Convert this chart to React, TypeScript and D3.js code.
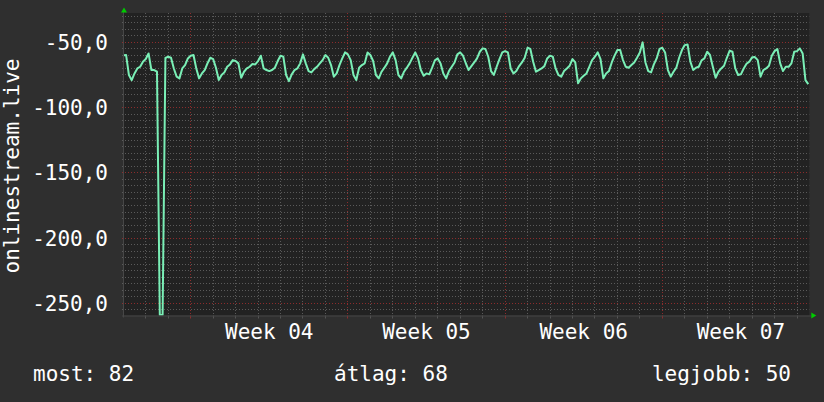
import React from "react";
import * as d3 from "d3";

const WIDTH = 824;
const HEIGHT = 402;

// Series: one sample every 3 hours, starting 2021-01-22 00:00 UTC
const START_MS = Date.UTC(2021, 0, 22);
const STEP_HOURS = 3;
const values: number[] = [
  -60, -59.7, -75, -79, -73.8, -70, -68.7, -64.8,
  -62.8, -58.5, -71.2, -71.2, -72.5, -259, -259, -62,
  -61, -61.8, -70, -76.3, -77.6, -70, -67.4, -62.3,
  -60.2, -59.7, -70, -77.6, -73.8, -71.2, -66, -61.8,
  -62.8, -69.5, -78.9, -75, -73, -68.7, -66.9, -63.6,
  -64.3, -66.1, -77.1, -72.5, -70, -68.7, -66.6, -66.9,
  -64.3, -60.2, -70, -71.2, -72, -71.2, -69.4, -64.3,
  -60.2, -61, -75, -79.7, -74.5, -71.2, -70, -66.1,
  -59.2, -66.1, -72, -73, -70.5, -68.7, -66.1, -63.6,
  -59.7, -61.8, -67.4, -76.3, -73.8, -67.4, -62.3, -57.7,
  -59.2, -63.6, -75, -78.9, -69.4, -67.4, -66.1, -57.7,
  -59.7, -64.3, -75, -77.6, -72.5, -69.4, -66.1, -61,
  -57.7, -63.6, -75, -77.6, -72.5, -69.4, -66.1, -61.8,
  -57.7, -62.3, -71.2, -75.6, -73.8, -74.5, -69.4, -63.8,
  -62.3, -66.1, -73.8, -77.6, -72, -68.7, -65.4, -59.2,
  -57.7, -60.2, -66, -71.2, -68.2, -65.4, -62.3, -57.2,
  -54.6, -55.1, -61, -72, -75, -68.7, -62.8, -57.7,
  -56.7, -57.7, -70, -73.8, -72, -68.2, -65.4, -61.8,
  -54.1, -55.1, -64.8, -72.5, -71.2, -70, -68.2, -62.3,
  -60.2, -61, -70, -75, -76.3, -72, -70, -67.9,
  -62.8, -65.4, -81.4, -77.6, -75.6, -73.8, -68.7, -63.6,
  -61, -57.7, -62.8, -77.6, -73.8, -72, -65.4, -60.2,
  -55.9, -55.9, -63.6, -68.7, -69.4, -67.4, -65.4, -61.8,
  -57.7, -50, -65.4, -72, -73, -66.9, -62.3, -55.1,
  -54.1, -57.7, -71.2, -76.3, -72.5, -69.4, -61.8, -55.9,
  -52.1, -51.6, -64.8, -71.2, -69.4, -68.7, -63.8, -62.3,
  -57.2, -59.7, -68.7, -77.1, -72.5, -70, -67.9, -61.8,
  -56.4, -57.2, -70, -75, -74.5, -70, -66.4, -64.8,
  -61.5, -61.3, -63.6, -76.3, -71.2, -70, -67.9, -60.2,
  -56.7, -55.1, -66.1, -72, -68.7, -68.7, -66.1, -57.2,
  -56.7, -54.6, -58.5, -78.9, -82,
];

const seriesName = "onlinestream.live";
const yMajorTicks = [-250, -200, -150, -100, -50];
const yMinorStep = 5;
const yDomain: [number, number] = [-259.3, -27.5];
const xDomainDays: [number, number] = [0.031, 30.546];

const legendLabels = ["most", "átlag", "legjobb"];
const legendValues = [82, 68, 50];

const DAY_MS = 86400000;

const locale = d3.formatLocale({
  decimal: ",",
  thousands: " ",
  grouping: [3],
  currency: ["", ""],
  minus: "-",
});
const fmtY = locale.format(".1f");
const fmtWeek = d3.utcFormat("%V");

const PLOT = { left: 124, right: 809.3, top: 13, bottom: 315.5 };

const BG = "#2f2f2f";
const PLOT_BG = "#222222";
const MINOR = "#5a5a5a";
const MAJOR = "#8c2c2c";
const LINE = "#7aefb6";
const ARROW = "#00cc00";
const FONT = "'DejaVu Sans Mono', monospace";

export default function App() {
  const x = d3
    .scaleUtc()
    .domain([
      new Date(START_MS + xDomainDays[0] * DAY_MS),
      new Date(START_MS + xDomainDays[1] * DAY_MS),
    ])
    .range([PLOT.left, PLOT.right]);
  const y = d3.scaleLinear().domain(yDomain).range([PLOT.bottom, PLOT.top]);

  const data = values.map((v, i) => ({
    t: new Date(START_MS + i * STEP_HOURS * 3600000),
    v,
  }));

  const line = d3
    .line<{ t: Date; v: number }>()
    .x((d) => x(d.t))
    .y((d) => y(d.v));

  const [d0, d1] = x.domain();
  const days = d3.utcDay.range(d0, d1);
  const mondays = d3.utcMonday.range(d0, d1);
  const isMonday = (d: Date) => d.getUTCDay() === 1;

  const minorY = d3
    .range(Math.ceil(yDomain[0] / yMinorStep) * yMinorStep, yDomain[1], yMinorStep)
    .filter((v) => !yMajorTicks.includes(v));

  const px = (v: number) => Math.floor(v) + 0.5;

  const weekLabels = mondays
    .map((m) => ({ m, c: new Date(m.getTime() + 3.5 * DAY_MS) }))
    .filter((o) => o.c < d1);

  return (
    <svg
      width={WIDTH}
      height={HEIGHT}
      style={{ position: "absolute", left: 0, top: 0, display: "block" }}
    >
      <defs>
        <clipPath id="plotclip">
          <rect
            x={PLOT.left}
            y={PLOT.top}
            width={PLOT.right - PLOT.left}
            height={PLOT.bottom - PLOT.top}
          />
        </clipPath>
      </defs>
      <rect x={0} y={0} width={WIDTH} height={HEIGHT} fill={BG} />
      <rect
        x={PLOT.left}
        y={PLOT.top}
        width={PLOT.right - PLOT.left}
        height={PLOT.bottom - PLOT.top}
        fill={PLOT_BG}
      />
      {/* minor grid */}
      <g stroke={MINOR} strokeWidth={1} strokeDasharray="1,2" fill="none">
        {minorY.map((v) => (
          <line key={"my" + v} x1={PLOT.left - 2} x2={PLOT.right} y1={px(y(v))} y2={px(y(v))} />
        ))}
        {days
          .filter((d) => !isMonday(d))
          .map((d) => (
            <line
              key={"mx" + d.getTime()}
              x1={px(x(d))}
              x2={px(x(d))}
              y1={PLOT.top}
              y2={PLOT.bottom + 2}
            />
          ))}
      </g>
      {/* major grid */}
      <g stroke={MAJOR} strokeWidth={1} strokeDasharray="1,2" fill="none">
        {yMajorTicks.map((v) => (
          <line key={"My" + v} x1={PLOT.left - 2} x2={PLOT.right} y1={px(y(v))} y2={px(y(v))} />
        ))}
        {mondays.map((d) => (
          <line
            key={"Mx" + d.getTime()}
            x1={px(x(d))}
            x2={px(x(d))}
            y1={PLOT.top}
            y2={PLOT.bottom + 3}
          />
        ))}
      </g>
      {/* ticks below axis */}
      <g strokeWidth={1}>
        {days.map((d) => (
          <line
            key={"t" + d.getTime()}
            x1={px(x(d))}
            x2={px(x(d))}
            y1={PLOT.bottom}
            y2={PLOT.bottom + 3}
            stroke={isMonday(d) ? MAJOR : "#555"}
          />
        ))}
      </g>
      {/* data line */}
      <path
        d={line(data) || ""}
        fill="none"
        stroke={LINE}
        strokeWidth={2}
        strokeLinejoin="round"
        clipPath="url(#plotclip)"
      />
      {/* axes */}
      <line x1={PLOT.left - 2} x2={PLOT.right + 2} y1={PLOT.bottom + 0.5} y2={PLOT.bottom + 0.5} stroke="#474747" />
      <line x1={PLOT.left - 0.5} x2={PLOT.left - 0.5} y1={PLOT.top - 2} y2={PLOT.bottom + 2} stroke="#474747" />
      {/* arrows */}
      <polygon
        points={`${PLOT.left - 3},${PLOT.top - 0.5} ${PLOT.left + 3},${PLOT.top - 0.5} ${PLOT.left},${PLOT.top - 5.5}`}
        fill={ARROW}
      />
      <polygon
        points={`${PLOT.right + 2},${PLOT.bottom - 3} ${PLOT.right + 2},${PLOT.bottom + 3} ${PLOT.right + 7},${PLOT.bottom}`}
        fill={ARROW}
      />
      {/* y labels */}
      <g fontFamily={FONT} fontSize={21} fill="#ffffff">
        {yMajorTicks.map((v) => (
          <text key={"yl" + v} x={108} y={y(v) + 7.6} textAnchor="end">
            {fmtY(v)}
          </text>
        ))}
        <text transform="translate(19,166) rotate(-90)" textAnchor="middle">
          {seriesName}
        </text>
        {weekLabels.map((o) => (
          <text key={"wl" + o.m.getTime()} x={x(o.c)} y={338.5} textAnchor="middle">
            {"Week " + fmtWeek(o.m)}
          </text>
        ))}
        <text x={33} y={381} textAnchor="start">
          {`${legendLabels[0]}: ${legendValues[0]}`}
        </text>
        <text x={334} y={381} textAnchor="start">
          {`${legendLabels[1]}: ${legendValues[1]}`}
        </text>
        <text x={791} y={381} textAnchor="end">
          {`${legendLabels[2]}: ${legendValues[2]}`}
        </text>
      </g>
    </svg>
  );
}
